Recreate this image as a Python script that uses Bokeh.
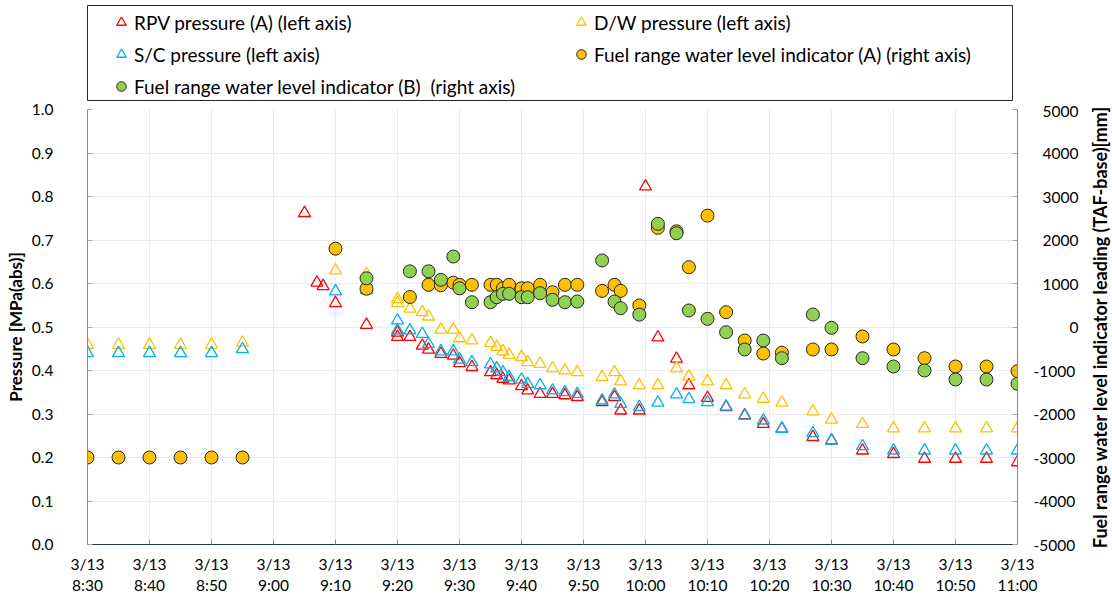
from bokeh.plotting import figure
from bokeh.layouts import column, row
from bokeh.models import Range1d, LinearAxis, FixedTicker, Legend, LegendItem
from bokeh.embed import file_html
from bokeh.resources import INLINE

# ---------------- data ----------------
x_tick_times = ["8:30", "8:40", "8:50", "9:00", "9:10", "9:20", "9:30", "9:40",
                "9:50", "10:00", "10:10", "10:20", "10:30", "10:40", "10:50", "11:00"]
x_tick_date = "3/13"
left_ticks = [0.0, 0.1, 0.2, 0.3, 0.4, 0.5, 0.6, 0.7, 0.8, 0.9, 1.0]
left_tick_labels = ["0.0", "0.1", "0.2", "0.3", "0.4", "0.5", "0.6", "0.7", "0.8", "0.9", "1.0"]
right_ticks = [-5000, -4000, -3000, -2000, -1000, 0, 1000, 2000, 3000, 4000, 5000]
right_tick_labels = ["-5000", "-4000", "-3000", "-2000", "-1000", "0", "1000", "2000",
                     "3000", "4000", "5000"]
left_title = "Pressure [MPa(abs)]"
right_title = "Fuel range water level indicator leading (TAF-base)[mm]"

rpv_t = ["9:05", "9:07", "9:08", "9:10", "9:15", "9:20", "9:20", "9:22", "9:24", "9:25",
         "9:27", "9:29", "9:30", "9:32", "9:35", "9:36", "9:37", "9:38", "9:40", "9:41",
         "9:43", "9:45", "9:47", "9:49", "9:53", "9:55", "9:56", "9:59", "10:00", "10:02",
         "10:05", "10:07", "10:10", "10:13", "10:16", "10:19", "10:22", "10:27", "10:30",
         "10:35", "10:40", "10:45", "10:50", "10:55", "11:00"]
rpv_p = [0.762, 0.602, 0.594, 0.555, 0.505, 0.487, 0.477, 0.477, 0.457, 0.448,
         0.438, 0.434, 0.417, 0.408, 0.396, 0.389, 0.381, 0.377, 0.364, 0.354,
         0.346, 0.346, 0.343, 0.339, 0.327, 0.339, 0.308, 0.308, 0.823, 0.476,
         0.427, 0.366, 0.337, 0.316, 0.297, 0.277, 0.266, 0.247, 0.239,
         0.216, 0.208, 0.197, 0.197, 0.197, 0.189]

dw_t = ["8:30", "8:35", "8:40", "8:45", "8:50", "8:55", "9:10", "9:15", "9:20", "9:20",
        "9:22", "9:24", "9:25", "9:27", "9:29", "9:30", "9:32", "9:35", "9:36", "9:37",
        "9:38", "9:40", "9:41", "9:43", "9:45", "9:47", "9:49", "9:53", "9:55", "9:56",
        "9:59", "10:02", "10:05", "10:07", "10:10", "10:13", "10:16", "10:19", "10:22",
        "10:27", "10:30", "10:35", "10:40", "10:45", "10:50", "10:55", "11:00"]
dw_p = [0.459, 0.459, 0.459, 0.459, 0.459, 0.464, 0.630, 0.622, 0.564, 0.555,
        0.542, 0.534, 0.524, 0.494, 0.494, 0.474, 0.469, 0.463, 0.454, 0.444,
        0.436, 0.431, 0.419, 0.415, 0.405, 0.400, 0.396, 0.385, 0.396, 0.375,
        0.366, 0.366, 0.405, 0.386, 0.375, 0.366, 0.345, 0.335, 0.326,
        0.306, 0.287, 0.277, 0.267, 0.267, 0.267, 0.267, 0.267]

sc_t = dw_t
sc_p = [0.440, 0.440, 0.440, 0.440, 0.440, 0.449, 0.582, 0.585, 0.515, 0.492,
        0.492, 0.484, 0.461, 0.444, 0.444, 0.425, 0.419, 0.414, 0.405, 0.396,
        0.385, 0.379, 0.369, 0.366, 0.354, 0.350, 0.346, 0.331, 0.345, 0.323,
        0.316, 0.326, 0.345, 0.334, 0.327, 0.317, 0.296, 0.285, 0.266,
        0.256, 0.239, 0.226, 0.216, 0.216, 0.216, 0.216, 0.216]

fa_t = ["8:30", "8:35", "8:40", "8:45", "8:50", "8:55", "9:10", "9:15", "9:22", "9:25",
        "9:27", "9:29", "9:30", "9:32", "9:35", "9:36", "9:37", "9:38", "9:40", "9:41",
        "9:43", "9:45", "9:47", "9:49", "9:53", "9:55", "9:56", "9:59", "10:02", "10:05",
        "10:07", "10:10", "10:13", "10:16", "10:19", "10:22", "10:27", "10:30", "10:35",
        "10:40", "10:45", "10:50", "10:55", "11:00"]
fa_l = [-3000, -3000, -3000, -3000, -3000, -3000, 1800, 880, 690, 970,
        960, 1020, 970, 970, 970, 970, 890, 970, 890, 890,
        970, 800, 970, 970, 830, 970, 830, 495, 2280, 2200,
        1375, 2560, 340, -310, -610, -590, -517, -517, -218,
        -517, -717, -908, -908, -1016]

fb_t = ["9:15", "9:22", "9:25", "9:27", "9:29", "9:30", "9:32", "9:35", "9:36", "9:37",
        "9:38", "9:40", "9:41", "9:43", "9:45", "9:47", "9:49", "9:53", "9:55", "9:56",
        "9:59", "10:02", "10:05", "10:07", "10:10", "10:13", "10:16", "10:19", "10:22",
        "10:27", "10:30", "10:35", "10:40", "10:45", "10:50", "10:55", "11:00"]
fb_l = [1120, 1280, 1280, 1085, 1620, 890, 570, 570, 685, 763,
        763, 685, 685, 777, 625, 570, 585, 1530, 585, 433,
        285, 2372, 2156, 380, 188, -120, -517, -310, -717,
        287, -18, -717, -908, -1000, -1207, -1207, -1306]

labels = ["RPV pressure (A) (left axis)", "D/W pressure (left axis)",
          "S/C pressure (left axis)", "Fuel range water level indicator (A) (right axis)",
          "Fuel range water level indicator (B)  (right axis)"]

colors = ["#FF0000", "#FFC000", "#00B0F0", "#FFC000", "#92D050"]
EDGE = "#262626"
FONT = "Lato"
W = 1088          # main plot width
TW = 22           # strip to the right that carries the right-axis title
H = 495           # main plot height
TOP = 8           # space above the plot frame
FRAME_H = 435


def tmin(s):
    h, m = s.split(":")
    return (int(h) - 8) * 60 + int(m) - 30


series = [([tmin(t) for t in rpv_t], rpv_p, "triangle", "default"),
          ([tmin(t) for t in dw_t], dw_p, "triangle", "default"),
          ([tmin(t) for t in sc_t], sc_p, "triangle", "default"),
          ([tmin(t) for t in fa_t], fa_l, "circle", "right"),
          ([tmin(t) for t in fb_t], fb_l, "circle", "right")]

# ---------------- main plot ----------------
p = figure(width=W, height=H, x_range=Range1d(0, 150), y_range=Range1d(0, 1),
           output_backend="svg", toolbar_location=None,
           min_border_left=87, min_border_right=W - 1017, min_border_top=TOP,
           min_border_bottom=H - TOP - FRAME_H)
p.extra_y_ranges = {"right": Range1d(-5000, 5000)}
p.outline_line_color = None
p.background_fill_color = "white"
p.border_fill_color = "white"

xt = [tmin(t) for t in x_tick_times]
xa = p.xaxis[0]
xa.ticker = FixedTicker(ticks=xt)
xa.major_label_overrides = {v: x_tick_date for v in xt}

# second line of the x tick labels (times) as a stacked bottom axis
xb = LinearAxis(ticker=FixedTicker(ticks=xt),
                major_label_overrides={v: t for v, t in zip(xt, x_tick_times)})
p.add_layout(xb, "below")

p.yaxis.ticker = FixedTicker(ticks=left_ticks)
p.yaxis.major_label_overrides = {v: s for v, s in zip(left_ticks, left_tick_labels)}
p.yaxis.axis_label = left_title

ry = LinearAxis(y_range_name="right", ticker=FixedTicker(ticks=right_ticks))
# right-aligned labels: pad with figure spaces (digit width)
ry.major_label_overrides = {v: "\u2007" * (5 - len(s)) + s
                            for v, s in zip(right_ticks, right_tick_labels)}
p.add_layout(ry, "right")

for ax in [xa, xb, p.yaxis[0], ry]:
    ax.major_label_text_font = FONT
    ax.major_label_text_font_size = "15.5px"
    ax.major_label_text_color = "black"
    ax.axis_label_text_font = FONT
    ax.axis_label_text_font_size = "17px"
    ax.axis_label_text_font_style = "bold"
    ax.axis_label_text_color = "black"
    ax.major_tick_in = 5
    ax.major_tick_out = 0
    ax.minor_tick_line_color = None
    ax.axis_line_color = "#868686"
    ax.major_tick_line_color = "#A6A6A6"

xa.axis_line_color = "#1F3864"
xa.major_tick_line_color = "#7F8FA9"
xa.major_label_standoff = 10
xb.axis_line_color = None
xb.major_tick_line_color = None
xb.major_tick_in = 0
xb.major_label_standoff = 0
p.yaxis.major_label_standoff = 34
p.yaxis.axis_label_standoff = 3
ry.major_label_standoff = 16

p.xgrid.ticker = FixedTicker(ticks=xt)
p.ygrid.ticker = FixedTicker(ticks=left_ticks)
p.grid.grid_line_color = "#EBEBEB"


def draw(fig, i):
    xs, ys, mk, rng = series[i]
    if mk == "triangle":
        return fig.scatter(xs, ys, marker="triangle", size=12, fill_color=None,
                           line_color=colors[i], line_width=1.3, y_range_name=rng)
    return fig.scatter(xs, ys, marker="circle", size=13, fill_color=colors[i],
                       line_color=EDGE, line_width=1, y_range_name=rng)


for i in range(5):
    draw(p, i)

# ---------------- right-axis title strip (a tick-less axis, reads bottom-to-top) ------
tf = figure(width=TW, height=H, x_range=Range1d(0, 1), y_range=Range1d(0, 1),
            output_backend="svg", toolbar_location=None,
            x_axis_location=None, y_axis_location="left",
            min_border_left=TW - 2, min_border_right=0, min_border_top=TOP,
            min_border_bottom=H - TOP - FRAME_H)
tf.grid.visible = False
tf.outline_line_color = None
tf.background_fill_color = "white"
tf.border_fill_color = "white"
ta = tf.yaxis[0]
ta.ticker = FixedTicker(ticks=[])
ta.axis_line_color = None
ta.major_tick_line_color = None
ta.minor_tick_line_color = None
ta.major_tick_in = 0
ta.major_tick_out = 0
ta.major_label_standoff = 0
ta.axis_label = right_title
ta.axis_label_standoff = 0
ta.axis_label_text_font = FONT
ta.axis_label_text_font_size = "18px"
ta.axis_label_text_font_style = "bold"
ta.axis_label_text_color = "black"

# ---------------- legend panel (boxed, above the plot) ----------------
lp = figure(width=W + TW, height=101, x_range=Range1d(-20, -10), y_range=Range1d(0, 1),
            output_backend="svg", toolbar_location=None,
            x_axis_location=None, y_axis_location=None,
            min_border_left=87, min_border_right=W + TW - 1012, min_border_top=5,
            min_border_bottom=1)
lp.extra_y_ranges = {"right": Range1d(0, 1)}
lp.grid.visible = False
lp.outline_line_color = EDGE
lp.outline_line_width = 1
lp.background_fill_color = "white"
lp.border_fill_color = "white"

leg_r = [draw(lp, i) for i in range(5)]   # same series, outside the visible range


def mk_legend(idx, loc):
    return Legend(items=[LegendItem(label=labels[i], renderers=[leg_r[i]]) for i in idx],
                  location=loc, border_line_color=None, background_fill_alpha=0,
                  padding=0, margin=0, spacing=8, glyph_width=24, glyph_height=24,
                  label_standoff=1, label_text_font=FONT, label_text_font_size="19px",
                  label_text_color="black", label_height=24)


lp.add_layout(mk_legend([0, 2, 4], (22, 2)))
lp.add_layout(mk_legend([1, 3], (482, 34)))

layout = column(lp, row(p, tf, spacing=0), spacing=0)
open("out.html", "w").write(file_html(layout, INLINE))
